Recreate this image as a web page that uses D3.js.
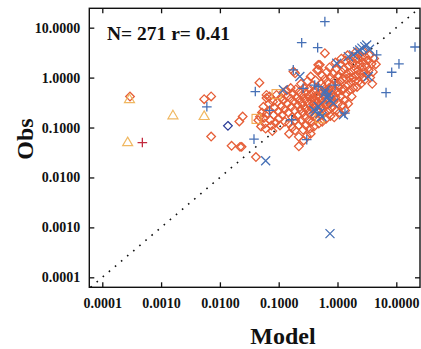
<!DOCTYPE html>
<html><head><meta charset="utf-8">
<script src="https://cdn.jsdelivr.net/npm/d3@7"></script>
<style>body{margin:0;background:#fff}svg{display:block}text{font-family:"Liberation Serif","Times New Roman",serif;font-weight:bold;fill:#111}</style>
</head><body>
<script>
// ---- data: [model, obs] ----
const diamonds = [
[0.000296,0.417],[0.0054,0.37],[0.0071,0.42],[0.0071,0.066],[0.0158,0.043],[0.022,0.041],[0.0234,0.041],
[0.0214,0.132],[0.0244,0.166],[0.047,0.79],[0.041,0.0256],[0.61,3.08],[0.47,1.8],[0.19,1.22],[0.062,0.45],
[0.045,0.14],[0.048,0.165],[0.052,0.20],[0.055,0.26],[0.058,0.12],[0.060,0.095],[0.063,0.19],[0.062,0.39],[0.050,0.105],[0.056,0.155],
[0.068,0.30],[0.070,0.22],[0.072,0.14],[0.075,0.11],[0.078,0.085],[0.080,0.33],[0.082,0.18],[0.085,0.25],[0.088,0.125],[0.07,0.42],
[0.092,0.45],[0.095,0.32],[0.098,0.21],[0.10,0.15],[0.105,0.11],[0.11,0.40],[0.112,0.27],[0.115,0.18],[0.12,0.35],[0.125,0.23],[0.128,0.13],[0.118,0.50],
[0.135,0.55],[0.14,0.42],[0.14,0.30],[0.145,0.20],[0.15,0.12],[0.15,0.075],[0.16,0.62],[0.16,0.38],[0.165,0.26],[0.17,0.16],[0.17,0.10],[0.175,0.48],[0.18,0.33],[0.185,0.22],[0.19,0.14],[0.19,0.088],[0.195,0.58],[0.20,0.40],[0.178,1.32],
[0.21,0.28],[0.21,0.17],[0.22,0.11],[0.22,0.065],[0.22,0.042],[0.225,0.52],[0.23,0.36],[0.235,0.23],[0.24,0.14],[0.24,0.75],[0.25,0.45],[0.25,0.30],[0.26,0.20],[0.26,0.09],[0.265,0.055],[0.27,0.62],[0.27,0.38],[0.28,0.25],[0.28,0.16],[0.29,0.11],[0.29,0.50],[0.30,0.33],[0.30,0.068],[0.31,0.22],[0.31,0.85],[0.32,0.42],[0.32,0.14],
[0.33,0.60],[0.33,0.29],[0.34,0.19],[0.34,0.095],[0.35,0.075],[0.35,1.05],[0.36,0.48],[0.36,0.35],[0.37,0.24],[0.37,0.13],[0.38,0.70],[0.38,0.40],[0.39,0.30],[0.40,0.17],[0.40,0.105],[0.41,0.55],[0.42,0.36],[0.42,0.88],[0.43,0.26],[0.44,0.15],[0.45,0.45],[0.45,1.4],[0.46,0.32],[0.47,0.21],[0.48,0.62],[0.48,0.12],[0.49,0.40],[0.50,1.8],[0.47,1.45],
[0.51,0.28],[0.52,0.50],[0.52,0.18],[0.53,0.75],[0.54,0.35],[0.55,1.1],[0.55,0.13],[0.56,0.24],[0.57,0.45],[0.58,0.65],[0.59,0.30],[0.60,0.20],[0.61,0.95],[0.62,0.40],[0.63,0.55],[0.64,0.15],[0.65,0.28],[0.66,1.3],[0.67,0.80],[0.68,0.48],[0.70,0.36],[0.70,0.22],[0.72,0.62],[0.73,1.6],[0.74,0.42],[0.75,0.30],[0.76,0.17],[0.77,1.0],[0.78,0.55],[0.79,0.38],
[0.80,0.25],[0.82,0.70],[0.83,0.46],[0.85,1.2],[0.86,0.33],[0.88,0.16],[0.89,0.90],[0.90,0.58],[0.92,2.0],[0.93,0.40],[0.95,0.22],[0.96,1.5],[0.98,0.75],[1.0,0.50],[1.02,0.30],[1.04,1.1],[1.06,0.65],[1.08,0.20],[1.10,1.8],[1.12,0.85],[1.14,0.42],[1.16,2.4],[1.18,1.3],[1.20,0.55],[1.22,0.28],[1.24,0.95],
[1.28,0.60],[1.30,1.5],[1.32,0.35],[1.35,0.22],[1.37,2.2],[1.40,0.95],[1.42,0.48],[1.45,1.2],[1.48,2.8],[1.50,0.70],[1.52,0.30],[1.55,1.7],[1.58,1.0],[1.60,0.55],[1.64,2.3],[1.68,0.80],[1.70,1.3],[1.74,0.42],[1.78,1.9],[1.82,1.0],[1.86,0.62],[1.90,2.6],[1.94,1.45],[1.98,0.85],
[2.02,3.2],[2.05,1.8],[2.1,1.1],[2.15,0.65],[2.2,2.4],[2.25,1.4],[2.3,0.85],[2.35,3.0],[2.4,1.9],[2.45,1.2],[2.5,0.75],[2.55,2.5],[2.6,1.6],[2.65,1.0],[2.7,3.4],[2.75,2.0],[2.8,1.3],[2.9,0.9],[3.0,2.6],[3.1,1.7],[3.2,1.15],
[3.3,2.2],[3.4,1.4],[3.5,2.8],[3.6,1.0],[3.8,1.9],[4.0,1.3],[4.2,2.4],[4.5,1.85],[3.9,0.75]
];
const bluePlus = [
[0.61,13.2],[0.246,5.0],[0.46,3.98],[20.8,4.1],[11.1,1.88],[8.35,1.28],[6.69,0.50],[4.64,2.85],[1.34,0.194],
[0.177,1.43],[0.26,0.61],[0.41,0.71],[0.91,0.71],[0.166,0.143],[0.038,0.0586],[0.040,0.525],[0.006,0.26],
[0.30,0.057],[0.47,0.66],[0.07,0.22]
];
const blueX = [
[0.745,0.00075],[0.060,0.0216],[0.229,1.05],[0.12,0.57],[0.97,1.94],[0.39,0.226],[0.50,0.194],[0.47,0.263],
[0.70,0.45],[0.745,0.36],[0.61,0.49],[0.85,0.31],[2.39,3.58],[2.91,4.17],[3.14,4.5],[1.86,2.85],[1.53,2.63],
[3.34,1.05],[2.6,3.9],[3.5,3.7],[2.2,3.3],[0.62,0.56],[0.66,0.39],[0.42,0.21],[0.54,0.166],[1.26,0.18]
];
const triangles = [[0.00029,0.38],[0.00027,0.052],[0.00159,0.18],[0.0054,0.174]];
const squares = [[0.092,0.466],[0.50,0.154],[0.042,0.149]];
const redPlus = [[0.00048,0.050]];
const blueDiamond = [[0.0137,0.108]];
const xTicks = [0.0001,0.001,0.01,0.1,1,10];
const yTicks = [0.0001,0.001,0.01,0.1,1,10];
const annotation = "N= 271 r= 0.41";

// ---- layout ----
const W=421,H=349;
const L=89.3,R=420,T=8.3,B=287.3;
const x=d3.scaleLog().domain([Math.pow(10,-4.221),Math.pow(10,1.403)]).range([L,R]);
const y=d3.scaleLog().domain([Math.pow(10,-4.2),Math.pow(10,1.388)]).range([B,T]);
const fmt=d3.format(".4f");

const svg=d3.select("body").append("svg").attr("width",W).attr("height",H);
svg.append("defs").append("clipPath").attr("id","clip").append("rect")
  .attr("x",L).attr("y",T).attr("width",R-L).attr("height",B-T);

// diagonal 1:1
const dmin=Math.max(x.domain()[0],y.domain()[0]), dmax=Math.min(x.domain()[1],y.domain()[1]);
svg.append("line").attr("clip-path","url(#clip)")
  .attr("x1",x(dmin)).attr("y1",y(dmin)).attr("x2",x(dmax)).attr("y2",y(dmax))
  .attr("stroke","#111").attr("stroke-width",1.6).attr("stroke-dasharray","1.6,6.4");

const g=svg.append("g").attr("clip-path","url(#clip)");
const cDia="#e65e37", cBlue="#4670b6", cTri="#f0b862", cRed="#c22a3e", cDB="#2c3e98", cSq="#f2a54a";

g.selectAll(".dia").data(diamonds).join("path")
  .attr("d","M0,-4.3L4.3,0L0,4.3L-4.3,0Z")
  .attr("transform",d=>`translate(${x(d[0])},${y(d[1])})`)
  .attr("fill","none").attr("stroke",cDia).attr("stroke-width",1.3);
g.selectAll(".sq").data(squares).join("rect")
  .attr("x",d=>x(d[0])-4.5).attr("y",d=>y(d[1])-4.5).attr("width",9).attr("height",9)
  .attr("fill","none").attr("stroke",cSq).attr("stroke-width",1.1);
g.selectAll(".tri").data(triangles).join("path")
  .attr("d","M0,-4.6L5,4L-5,4Z")
  .attr("transform",d=>`translate(${x(d[0])},${y(d[1])})`)
  .attr("fill","none").attr("stroke",cTri).attr("stroke-width",1.2);
g.selectAll(".bd").data(blueDiamond).join("path")
  .attr("d","M0,-4.3L4.3,0L0,4.3L-4.3,0Z")
  .attr("transform",d=>`translate(${x(d[0])},${y(d[1])})`)
  .attr("fill","none").attr("stroke",cDB).attr("stroke-width",1.3);
g.selectAll(".rp").data(redPlus).join("path")
  .attr("d","M-4.8,0H4.8M0,-4.8V4.8")
  .attr("transform",d=>`translate(${x(d[0])},${y(d[1])})`)
  .attr("stroke",cRed).attr("stroke-width",1.3);
g.selectAll(".bp").data(bluePlus).join("path")
  .attr("d","M-4.8,0H4.8M0,-4.8V4.8")
  .attr("transform",d=>`translate(${x(d[0])},${y(d[1])})`)
  .attr("stroke",cBlue).attr("stroke-width",1.3);
g.selectAll(".bx").data(blueX).join("path")
  .attr("d","M-4.5,-4.5L4.5,4.5M-4.5,4.5L4.5,-4.5")
  .attr("transform",d=>`translate(${x(d[0])},${y(d[1])})`)
  .attr("stroke",cBlue).attr("stroke-width",1.3);

// axes (ticks inward on all four sides)
const tl=5;
svg.append("g").attr("transform",`translate(0,${B})`)
  .call(d3.axisBottom(x).tickValues(xTicks).tickSize(-tl).tickPadding(10).tickFormat(fmt))
  .call(a=>{a.select(".domain").remove();a.selectAll("text").attr("font-size",14).attr("dy","0.75em");});
svg.append("g").attr("transform",`translate(0,${T})`)
  .call(d3.axisTop(x).tickValues(xTicks).tickSize(-tl).tickFormat(""))
  .call(a=>a.select(".domain").remove());
svg.append("g").attr("transform",`translate(${L},0)`)
  .call(d3.axisLeft(y).tickValues(yTicks).tickSize(-tl).tickPadding(9).tickFormat(fmt))
  .call(a=>{a.select(".domain").remove();a.selectAll("text").attr("font-size",14);});
svg.append("g").attr("transform",`translate(${R},0)`)
  .call(d3.axisRight(y).tickValues(yTicks).tickSize(-tl).tickFormat(""))
  .call(a=>a.select(".domain").remove());
svg.selectAll(".tick line").attr("stroke","#111").attr("stroke-width",1.3);
svg.selectAll(".tick text").attr("fill","#111").attr("font-family","Liberation Serif").attr("font-weight","bold");

svg.append("rect").attr("x",L).attr("y",T).attr("width",R-L).attr("height",B-T)
  .attr("fill","none").attr("stroke","#111").attr("stroke-width",1.4);

svg.append("text").attr("x",107).attr("y",40).attr("font-size",19.5).text(annotation);
svg.append("text").attr("x",283).attr("y",344).attr("text-anchor","middle").attr("font-size",24).text("Model");
svg.append("text").attr("transform","translate(33,139) rotate(-90)").attr("text-anchor","middle").attr("font-size",24).text("Obs");
</script>
</body></html>
